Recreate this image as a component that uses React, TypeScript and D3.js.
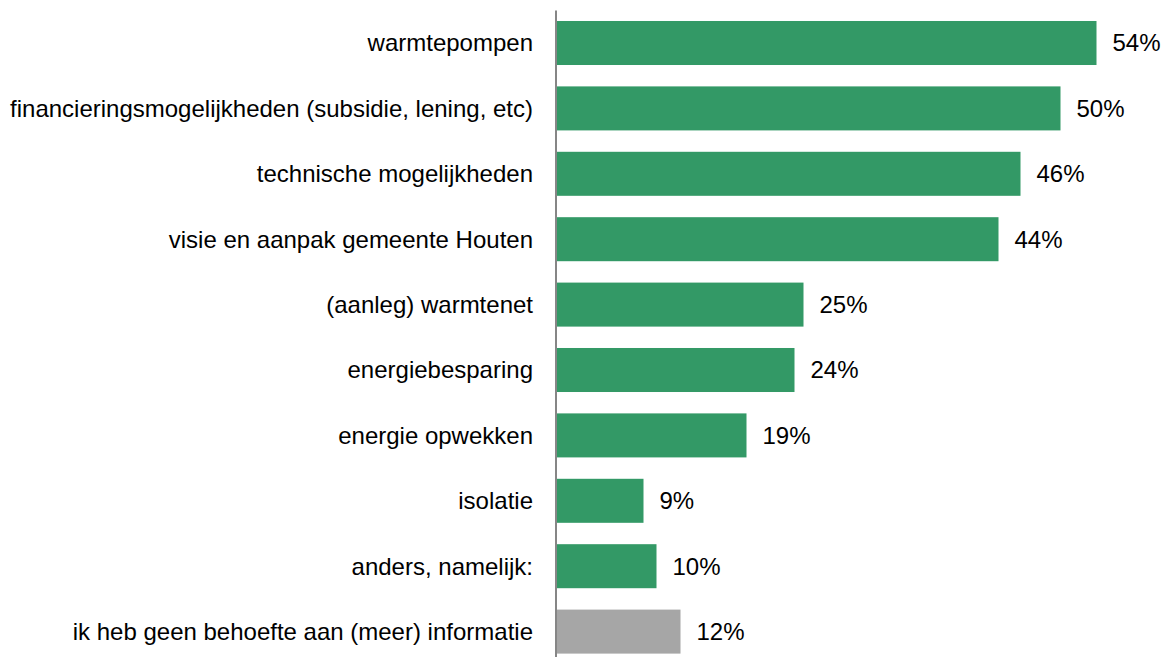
import React from "react";
import * as d3 from "d3";

const categories = [
  "warmtepompen",
  "financieringsmogelijkheden (subsidie, lening, etc)",
  "technische mogelijkheden",
  "visie en aanpak gemeente Houten",
  "(aanleg) warmtenet",
  "energiebesparing",
  "energie opwekken",
  "isolatie",
  "anders, namelijk:",
  "ik heb geen behoefte aan (meer) informatie",
];
const values = [54.0, 50.4, 46.4, 44.2, 24.7, 23.8, 19.0, 8.7, 10.0, 12.4];
const valueLabels = ["54%", "50%", "46%", "44%", "25%", "24%", "19%", "9%", "10%", "12%"];
const barColors = [
  "#339966", "#339966", "#339966", "#339966", "#339966",
  "#339966", "#339966", "#339966", "#339966", "#a6a6a6",
];

const W = 1166;
const H = 657;

export default function App() {
  const x = d3.scaleLinear().domain([0, 60]).range([556.5, 1156.5]);
  const y = d3
    .scaleBand<string>()
    .domain(categories)
    .range([10.3, 664.3])
    .paddingInner(0.327)
    .paddingOuter(0.1635);
  const font = "'Liberation Sans', Arial, sans-serif";
  return (
    <svg
      width={W}
      height={H}
      style={{ position: "absolute", left: 0, top: 0, background: "#fff" }}
      fontFamily={font}
    >
      {categories.map((c, i) => {
        const yy = y(c)!;
        const cy = yy + y.bandwidth() / 2;
        return (
          <g key={c}>
            <rect
              x={x(0)}
              y={yy}
              width={x(values[i]) - x(0)}
              height={y.bandwidth()}
              fill={barColors[i]}
            />
            <text
              x={533}
              y={cy}
              dy="0.35em"
              textAnchor="end"
              fontSize={24}
              fill="#000"
            >
              {c}
            </text>
            <text
              x={x(values[i]) + 16}
              y={cy}
              dy="0.35em"
              textAnchor="start"
              fontSize={24}
              fill="#000"
            >
              {valueLabels[i]}
            </text>
          </g>
        );
      })}
      <line x1={556} x2={556} y1={10.5} y2={H} stroke="#868686" strokeWidth={2} />
    </svg>
  );
}
